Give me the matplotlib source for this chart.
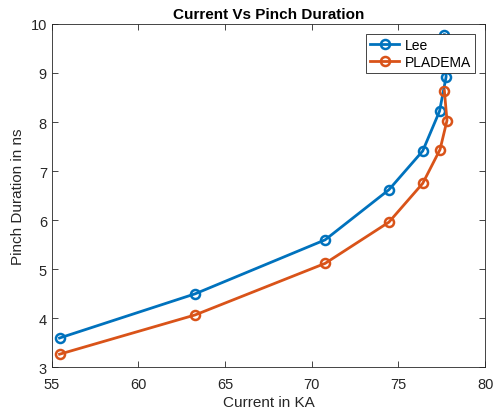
import matplotlib
matplotlib.use("Agg")
import matplotlib.pyplot as plt

plt.rcParams['font.family'] = ['Liberation Sans', 'DejaVu Sans']

lee_current = [55.45, 63.27, 70.77, 74.45, 76.4, 77.37, 77.75, 77.65]
lee_duration = [3.60, 4.50, 5.60, 6.62, 7.41, 8.22, 8.92, 9.78]
plad_current = [55.45, 63.27, 70.77, 74.45, 76.4, 77.4, 77.8, 77.65]
plad_duration = [3.27, 4.07, 5.12, 5.96, 6.75, 7.44, 8.03, 8.64]

xticks = [55, 60, 65, 70, 75, 80]
yticks = [3, 4, 5, 6, 7, 8, 9, 10]

fig = plt.figure(figsize=(4.93, 4.14), dpi=100)
ax = fig.add_axes([0.105, 0.110, 0.879, 0.830])

ax.plot(lee_current, lee_duration, '-o', color='#0072BD', lw=2, ms=6.5,
        mfc='none', mew=1.8, label='Lee')
ax.plot(plad_current, plad_duration, '-o', color='#D95319', lw=2, ms=6.5,
        mfc='none', mew=1.8, label='PLADEMA')

ax.set_xlim(55, 80)
ax.set_ylim(3, 10)
ax.set_xticks(xticks)
ax.set_yticks(yticks)
ax.tick_params(direction='in', top=True, right=True, labelsize=10.5,
               colors='#262626', length=4, width=0.6)
ax.tick_params(axis='x', pad=7)
for s in ax.spines.values():
    s.set_color('#262626')
    s.set_linewidth(0.6)

ax.set_xlabel('Current in KA', fontsize=11, color='#262626', labelpad=3)
ax.set_ylabel('Pinch Duration in ns', fontsize=11, color='#262626')
ax.set_title('Current Vs Pinch Duration', fontsize=11, fontweight='bold', color='black', pad=4)

leg = ax.legend(loc='upper right', fontsize=10, fancybox=False, framealpha=1,
                edgecolor='#262626', borderaxespad=0.7, handlelength=2.1,
                handletextpad=0.4, borderpad=0.3, labelspacing=0.2)
leg.get_frame().set_linewidth(0.6)

fig.savefig('out.png', dpi=100)
